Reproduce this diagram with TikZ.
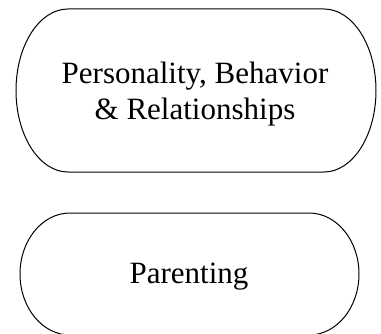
\documentclass[tikz,border=0pt]{standalone}
\usepackage{fontspec}
\setmainfont{Liberation Serif}
\begin{document}
\begin{tikzpicture}[x=1pt,y=1pt,
  term/.style={draw=black, line width=1pt},
  lbl/.style={font=\fontsize{31}{35.5}\selectfont, align=center, inner sep=0pt}]
\useasboundingbox (0,0) rectangle (381,333);
\clip (0,0) rectangle (381,333);
% top terminator shape
\draw[term] (68,324) -- (324,324)
  arc[start angle=90,end angle=-90,x radius=52,y radius=81.5]
  -- (68,161)
  arc[start angle=270,end angle=90,x radius=52,y radius=81.5] -- cycle;
% bottom terminator shape
\draw[term] (70,120) -- (309,120)
  arc[start angle=90,end angle=-90,x radius=50,y radius=61]
  -- (70,-2)
  arc[start angle=270,end angle=90,x radius=50,y radius=61] -- cycle;
\node[lbl] (pbr) at (195,239) {Personality, Behavior\\ \& Relationships};
\node[lbl, anchor=base] (par) at (189,50) {Parenting};
\end{tikzpicture}
\end{document}
